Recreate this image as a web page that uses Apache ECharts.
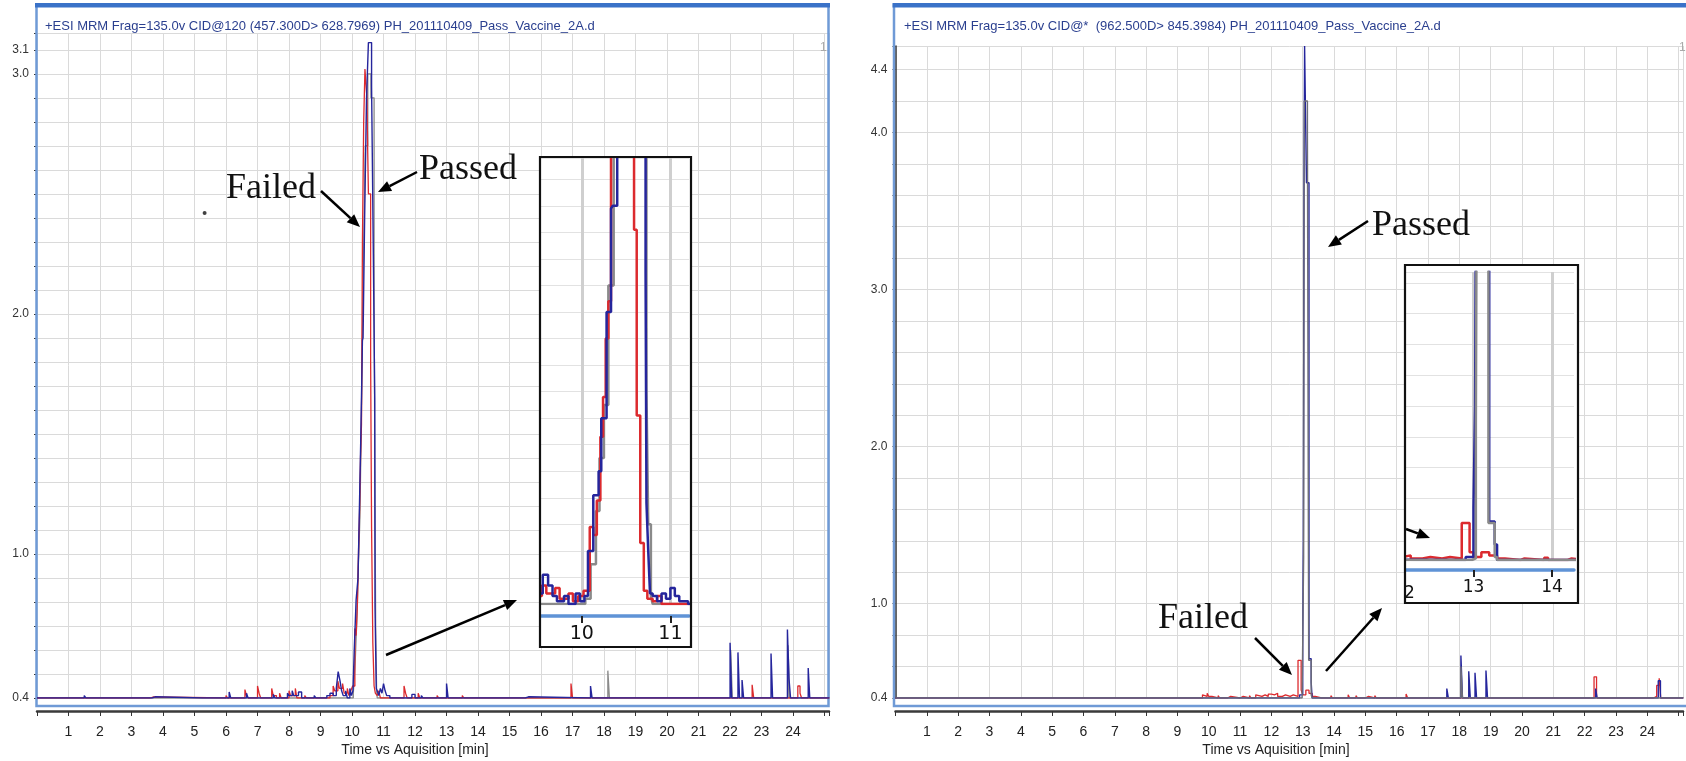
<!DOCTYPE html>
<html><head><meta charset="utf-8">
<script src="https://cdn.jsdelivr.net/npm/echarts@6/dist/echarts.min.js"></script>
<style>html,body{margin:0;padding:0;background:#fff}#c{width:1686px;height:761px}</style>
</head><body><div id="c"></div>
<script>
// ---------- DATA ----------
const leftTitle = "+ESI MRM Frag=135.0v CID@120 (457.300D> 628.7969) PH_201110409_Pass_Vaccine_2A.d";
const rightTitle = "+ESI MRM Frag=135.0v CID@*  (962.500D> 845.3984) PH_201110409_Pass_Vaccine_2A.d";
const xAxisName = "Time vs Aquisition [min]";
const xTickLabels = [1,2,3,4,5,6,7,8,9,10,11,12,13,14,15,16,17,18,19,20,21,22,23,24];
const leftYLabels = [0.4, 1.0, 2.0, 3.0, 3.1];
const rightYLabels = [0.4, 1.0, 2.0, 3.0, 4.0, 4.4];
const leftInsetTicks = [10, 11];
const rightInsetTicks = [13, 14];

// left chromatogram (time [min], response)
const leftFailed = [[0,0.40],[3.6,0.405],[3.7,0.40],[6.0,0.41],[6.05,0.40],[6.6,0.435],[6.65,0.41],[6.7,0.40],[7.0,0.45],[7.05,0.42],[7.1,0.40],
 [7.45,0.44],[7.5,0.41],[7.6,0.40],[7.7,0.42],[7.75,0.40],[8.0,0.43],[8.05,0.41],[8.2,0.44],[8.25,0.40],[8.5,0.41],[8.55,0.40],
 [9.3,0.41],[9.4,0.45],[9.45,0.43],[9.55,0.47],[9.6,0.44],[9.7,0.46],[9.75,0.42],[9.85,0.44],[9.9,0.41],[9.96,0.43],[10.02,0.45],
 [10.09,0.69],[10.13,0.66],[10.17,0.79],[10.21,1.03],[10.24,1.18],[10.27,1.40],[10.30,1.54],[10.33,2.3],[10.37,2.8],[10.41,3.02],
 [10.47,2.9],[10.52,2.5],[10.59,1.81],[10.62,1.11],[10.66,0.63],[10.70,0.45],[10.74,0.42],[10.8,0.41],[10.85,0.43],[10.9,0.40],
 [11.65,0.45],[11.7,0.42],[11.75,0.40],[12.1,0.42],[12.15,0.40],[12.7,0.41],[12.75,0.40],[13.5,0.41],[13.55,0.40],
 [16.95,0.46],[17.0,0.40],[22.7,0.455],[22.75,0.40],[24.15,0.45],[24.22,0.42],[24.27,0.40],[25.15,0.40]];
const leftPassed = [[0,0.40],[1.5,0.41],[1.55,0.40],[3.65,0.405],[3.75,0.40],[5.25,0.405],[5.3,0.40],[6.1,0.425],[6.15,0.40],
 [6.65,0.42],[6.7,0.40],[7.5,0.415],[7.55,0.40],[7.95,0.42],[8.0,0.41],[8.1,0.43],[8.15,0.41],[8.3,0.425],[8.4,0.40],[8.8,0.41],[8.85,0.40],
 [9.2,0.41],[9.3,0.42],[9.4,0.41],[9.5,0.44],[9.56,0.51],[9.62,0.47],[9.67,0.43],[9.72,0.41],[9.8,0.43],[9.85,0.40],[9.93,0.44],[9.98,0.41],
 [10.03,0.43],[10.07,0.60],[10.13,0.81],[10.19,0.90],[10.22,1.10],[10.28,1.50],[10.33,1.89],[10.35,1.90],[10.40,2.4],[10.46,2.9],
 [10.52,3.13],[10.62,2.95],[10.68,2.2],[10.72,1.65],[10.73,0.78],[10.75,0.60],[10.77,0.44],[10.8,0.43],[10.85,0.41],[10.9,0.44],
 [10.95,0.42],[11.0,0.46],[11.05,0.43],[11.1,0.41],[11.2,0.40],[11.9,0.415],[12.0,0.40],[12.2,0.41],[12.25,0.40],[13.0,0.46],[13.05,0.40],
 [15.5,0.405],[15.6,0.40],[17.57,0.45],[17.62,0.40],[18.75,0.405],[18.8,0.40],[22.0,0.63],[22.05,0.40],[22.25,0.59],[22.3,0.40],
 [22.38,0.475],[22.43,0.40],[23.3,0.585],[23.35,0.40],[23.82,0.685],[23.87,0.48],[23.92,0.40],[24.48,0.525],[24.53,0.40],[25.15,0.40]];
const leftOther = [[0,0.40],[10.04,0.42],[10.1,0.55],[10.16,0.75],[10.2,0.95],[10.25,1.15],[10.3,1.6],[10.36,2.2],[10.42,2.7],
 [10.5,3.0],[10.6,2.9],[10.7,2.1],[10.73,1.2],[10.75,0.7],[10.78,0.43],[10.8,0.40],[18.12,0.514],[18.17,0.40],[22.02,0.60],[22.07,0.40],
 [23.84,0.62],[23.89,0.40],[25.15,0.40]];
const leftDot = [[5.32, 2.42]];

// right chromatogram
const rightFailed = [[0,0.40],[9.8,0.42],[9.85,0.41],[9.95,0.43],[10.0,0.41],[10.1,0.42],[10.15,0.40],[10.3,0.415],[10.35,0.40],
 [10.6,0.41],[10.7,0.42],[10.75,0.40],[11.0,0.41],[11.1,0.40],[11.3,0.415],[11.35,0.40],[11.5,0.42],[11.55,0.41],[11.7,0.42],[11.8,0.41],
 [11.9,0.425],[12.0,0.42],[12.1,0.43],[12.2,0.41],[12.35,0.42],[12.45,0.41],[12.6,0.42],[12.7,0.41],[12.85,0.64],[12.95,0.45],[13.0,0.42],
 [13.1,0.45],[13.2,0.43],[13.3,0.41],[13.4,0.40],[13.6,0.41],[13.65,0.40],[13.9,0.415],[13.95,0.40],[14.2,0.41],[14.25,0.40],[14.45,0.42],
 [14.5,0.40],[14.7,0.415],[14.75,0.40],[15.0,0.41],[15.1,0.40],[15.3,0.415],[15.35,0.40],[15.6,0.41],[15.65,0.40],[16.3,0.425],[16.35,0.40],
 [16.6,0.41],[16.65,0.40],[17.1,0.41],[17.15,0.40],[22.3,0.535],[22.38,0.40],[24.2,0.41],[24.3,0.48],[24.38,0.525],[24.43,0.40],[25.15,0.40]];
const rightPassed = [[0,0.40],[1.2,0.405],[1.25,0.40],[6.2,0.41],[6.25,0.40],[9.1,0.41],[9.15,0.40],[12.9,0.42],[13.0,0.74],[13.02,1.4],
 [13.04,3.6],[13.06,4.55],[13.12,3.68],[13.2,0.65],[13.27,0.50],[13.3,0.40],[17.6,0.46],[17.65,0.40],[18.05,0.67],[18.1,0.40],[18.3,0.57],
 [18.35,0.40],[18.5,0.56],[18.55,0.40],[18.85,0.575],[18.9,0.40],[21.2,0.41],[21.25,0.40],[22.35,0.46],[22.4,0.40],[24.35,0.51],[24.42,0.40],[25.15,0.40]];
const rightOther = [[0,0.40],[12.98,0.41],[13.03,1.3],[13.05,4.2],[13.15,4.0],[13.19,0.64],[13.27,0.42],[13.3,0.40],[18.05,0.60],[18.1,0.40],[25.15,0.40]];

// ---------- CHART ----------
const RED = '#dc2a2e', BLUE = '#25259c', GRAY = '#8a8a8a', GRAY_R = '#6e6e78';
const NARROW = "'Liberation Sans Narrow','Arial Narrow','Liberation Sans',sans-serif";
const chart = echarts.init(document.getElementById('c'), null, {renderer:'canvas'});
const near = (arr, v) => arr.some(a => Math.abs(a - v) < 1e-6);

function mainX(gi){
  return {gridIndex: gi, type:'value', min:0, max:25.14, interval:1, offset:13,
    axisLine:{show:true, onZero:false, lineStyle:{color:'#3a3a3a', width:2.5}},
    axisTick:{show:true, length:5, lineStyle:{color:'#333'}},
    axisLabel:{margin:14, fontSize:14, fontFamily:NARROW, color:'#222',
      formatter: v => near(xTickLabels, v) ? String(Math.round(v)) : ''},
    splitLine:{show:true, lineStyle:{color:'#dadada', width:1}}};
}
function mainY(gi, max, step, labels, lineShow){
  return {gridIndex: gi, type:'value', min:0.4, max:max, interval:step,
    axisLine:{show:lineShow, onZero:false, lineStyle:{color:'#333', width:1.5}},
    axisTick:{show:true, length:3, lineStyle:{color:'#333'}},
    axisLabel:{margin:8, fontSize:12, fontFamily:"'Liberation Sans',Arial,sans-serif", color:'#333',
      formatter: v => near(labels, v) ? v.toFixed(1) : ''},
    splitLine:{show:true, lineStyle:{color:'#dadada', width:1}}};
}
function insetX(gi, min, max, ticks, off, fs){
  return {gridIndex: gi, type:'value', min:min, max:max, offset:off, z:4,
    axisLine:{show:true, onZero:false, lineStyle:{color:'#5f93d6', width:3.5}},
    axisTick:{show:true, length:7, customValues:ticks, lineStyle:{color:'#222', width:2}},
    axisLabel:{margin:9, fontSize:fs, customValues:ticks, fontFamily:"'DejaVu Sans',sans-serif", color:'#111'},
    splitLine:{show:true, lineStyle:{color:'#cfcfcf', width:3}}};
}
function insetY(gi, max, step){
  return {gridIndex: gi, type:'value', min:0.4, max:max, interval:step, z:4,
    axisLine:{show:false}, axisTick:{show:false}, axisLabel:{show:false},
    splitLine:{show:true, lineStyle:{color:'#e2e2e2', width:1}}};
}
function line(data, color, xi, w, z){
  return {type:'line', data:data, xAxisIndex:xi, yAxisIndex:xi, step:'end', showSymbol:false, symbol:'none',
    clip:true, z:z, lineStyle:{color:color, width:w}, itemStyle:{color:color}, silent:true, animation:false};
}
function arrow(x1,y1,x2,y2){
  const dx=x2-x1, dy=y2-y1, L=Math.hypot(dx,dy), ux=dx/L, uy=dy/L, hl=13, hw=5.5;
  const bx=x2-ux*hl, by=y2-uy*hl;
  return [{type:'line', z:20, shape:{x1:x1,y1:y1,x2:bx,y2:by}, style:{stroke:'#000', lineWidth:2.5}},
          {type:'polygon', z:20, shape:{points:[[x2,y2],[bx-uy*hw,by+ux*hw],[bx+uy*hw,by-ux*hw]]}, style:{fill:'#000'}}];
}
const serifTxt = (t,x,y) => ({type:'text', z:20, x:x, y:y, style:{text:t, font:"36px 'Liberation Serif','Times New Roman',serif", fill:'#111', verticalAlign:'middle'}});

const graphics = [
  {type:'rect', z:1, shape:{x:36.5,y:5.5,width:792,height:700.5}, style:{fill:null, stroke:'#6f9ad6', lineWidth:2.5}},
  {type:'rect', z:1, shape:{x:35,y:3,width:795,height:4.5}, style:{fill:'#3a72c8'}},
  {type:'rect', z:1, shape:{x:894,y:5.5,width:800,height:700.5}, style:{fill:null, stroke:'#6f9ad6', lineWidth:2.5}},
  {type:'rect', z:1, shape:{x:892.5,y:3,width:800,height:4.5}, style:{fill:'#3a72c8'}},
  {type:'text', z:5, x:45, y:26, style:{text:leftTitle, font:"13px "+NARROW, fill:'#2a3f8f', verticalAlign:'middle'}},
  {type:'text', z:5, x:904, y:26, style:{text:rightTitle, font:"13px "+NARROW, fill:'#2a3f8f', verticalAlign:'middle'}},
  {type:'text', z:5, x:820, y:48, style:{text:'1', font:"12px 'Liberation Sans',sans-serif", fill:'#aaa', verticalAlign:'middle'}},
  {type:'text', z:5, x:1679, y:48, style:{text:'1', font:"12px 'Liberation Sans',sans-serif", fill:'#aaa', verticalAlign:'middle'}},
  {type:'text', z:5, x:415, y:750, style:{text:xAxisName, font:"14px "+NARROW, fill:'#222', align:'center', verticalAlign:'middle'}},
  {type:'text', z:5, x:1276, y:750, style:{text:xAxisName, font:"14px "+NARROW, fill:'#222', align:'center', verticalAlign:'middle'}},
  {type:'rect', z:3, shape:{x:540,y:157,width:151,height:490}, style:{fill:'#fff'}},
  {type:'rect', z:30, shape:{x:540,y:157,width:151,height:490}, style:{fill:null, stroke:'#111', lineWidth:2.2}},
  {type:'rect', z:3, shape:{x:1405,y:265,width:173,height:338}, style:{fill:'#fff'}},
  {type:'rect', z:30, shape:{x:1405,y:265,width:173,height:338}, style:{fill:null, stroke:'#111', lineWidth:2.2}},
  {type:'text', z:31, x:1404, y:594, style:{text:'2', font:"17px 'DejaVu Sans',sans-serif", fill:'#111', verticalAlign:'middle'}},
  serifTxt('Failed', 226, 189), serifTxt('Passed', 419, 170),
  serifTxt('Passed', 1372, 226), serifTxt('Failed', 1158, 619),
  ...arrow(321,191,360,227), ...arrow(417,172,378,192), ...arrow(386,655,517,600),
  ...arrow(1368,221,1328,247), ...arrow(1255,638,1292,675), ...arrow(1326,671,1382,608),
  ...arrow(1406,529,1430,538)
];

const option = {
  backgroundColor:'#fff', animation:false,
  grid:[
    {left:37, top:33, width:792, height:665},
    {left:895.5, top:46, width:792, height:652},
    {left:541, top:158, width:148, height:446},
    {left:1406, top:272, width:168, height:288}
  ],
  xAxis:[ mainX(0), mainX(1),
    insetX(2, 9.54, 11.21, leftInsetTicks, 12, 19),
    insetX(3, 12.14, 14.28, rightInsetTicks, 10, 17) ],
  yAxis:[ mainY(0, 3.17, 0.1, leftYLabels, false), mainY(1, 4.55, 0.2, rightYLabels, true),
    insetY(2, 2.08, 0.1), insetY(3, 2.27, 0.2) ],
  series:[
    line(leftOther, GRAY, 0, 1.3, 2), line(leftFailed, RED, 0, 1.3, 2), line(leftPassed, BLUE, 0, 1.4, 2),
    {type:'scatter', data:leftDot, xAxisIndex:0, yAxisIndex:0, symbolSize:4, itemStyle:{color:'#111'}, silent:true, z:2},
    line(rightFailed, RED, 1, 1.3, 2), line(rightPassed, BLUE, 1, 1.4, 2), line(rightOther, GRAY_R, 1, 1.4, 2),
    line(leftOther, GRAY, 2, 2.5, 6), line(leftFailed, RED, 2, 2.5, 6), line(leftPassed, BLUE, 2, 2.5, 6),
    line(rightFailed, RED, 3, 2.5, 6), line(rightPassed, BLUE, 3, 2.5, 6), line(rightOther, GRAY, 3, 2.5, 6)
  ],
  graphic: graphics
};
chart.setOption(option);
</script></body></html>
